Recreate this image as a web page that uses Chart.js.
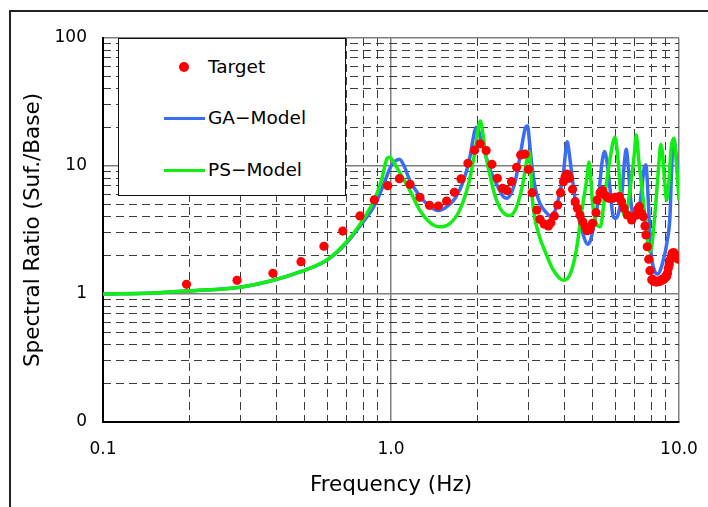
<!DOCTYPE html>
<html>
<head>
<meta charset="utf-8">
<script src="https://cdn.jsdelivr.net/npm/chart.js@4.4.1/dist/chart.umd.min.js"></script>
<style>
  html, body { margin: 0; padding: 0; background: #ffffff; }
  #wrap { position: relative; width: 708px; height: 507px; overflow: hidden; background: #fff; }
  #frame { position: absolute; left: 9px; top: 10px; width: 760px; height: 560px; border: 2px solid #222; box-sizing: border-box; pointer-events: none; }
  canvas { position: absolute; left: 0; top: 0; }
  #legend { position: absolute; left: 118px; top: 38px; width: 228px; height: 158px; box-sizing: border-box;
            border: 1.5px solid #111; background: #fff; font-family: "DejaVu Sans", sans-serif; font-size: 18.5px; color: #000; }
  .row { position: absolute; left: 0; height: 24px; line-height: 24px; }
  .row span { position: absolute; left: 89px; top: 0; white-space: nowrap; }
  .dot { position: absolute; left: 60px; top: 7px; width: 10px; height: 10px; border-radius: 50%; background: #ff0000; }
  .ln { position: absolute; left: 45px; top: 10.5px; width: 41px; height: 3.5px; }
</style>
</head>
<body>
<div id="wrap">
  <canvas id="c" width="708" height="507"></canvas>
  <div id="frame"></div>
  <div id="legend">
    <div class="row" style="top:16px"><div class="dot"></div><span>Target</span></div>
    <div class="row" style="top:67px"><div class="ln" style="background:#3a6cf4"></div><span>GA−Model</span></div>
    <div class="row" style="top:119px"><div class="ln" style="background:#11ee11"></div><span>PS−Model</span></div>
  </div>
</div>
<script>
// ---- data ----
const targetFreq = [0.195,0.292,0.389,0.487,0.585,0.68,0.78,0.875,0.974,1.069,1.164,1.26,1.36,1.46,1.56,1.66,1.75,1.85,1.95,2.04,2.14,2.24,2.34,2.44,2.53,2.62,2.73,2.82,2.92,3.0,3.09,3.21,3.29,3.40,3.52,3.59,3.69,3.79,3.88,3.97,4.02,4.07,4.12,4.16,4.27,4.36,4.44,4.53,4.63,4.72,4.80,4.91,5.01,5.15,5.20,5.32,5.43,5.5,5.61,5.7,5.79,5.9,6.0,6.1,6.21,6.32,6.44,6.62,6.85,7.1,7.2,7.28,7.4,7.52,7.62,7.68,7.76,7.85,7.93,8.04,8.1,8.15,8.26,8.35,8.45,8.55,8.65,8.72,8.82,8.92,9.0,9.06,9.12,9.18,9.25,9.31,9.4,9.45,9.51,9.6,9.7,9.77,9.85,9.95];
const targetRatio = [1.19,1.28,1.45,1.79,2.36,3.10,4.07,5.43,7.02,7.96,7.19,5.69,4.93,4.87,5.33,6.23,7.92,10.5,13.3,14.9,13.2,10.3,8.01,6.69,6.41,7.54,9.77,12.2,12.4,9.42,6.19,4.53,3.83,3.52,3.40,3.61,4.07,4.96,6.19,7.54,8.2,8.66,8.5,8.01,6.58,5.26,4.67,4.14,3.67,3.36,3.12,3.20,3.57,4.32,5.43,6.19,6.41,6.0,5.76,5.6,5.59,5.6,5.69,5.7,5.76,5.26,4.67,4.14,3.79,4.14,4.6,4.81,4.27,4.02,3.40,2.89,2.34,1.87,1.52,1.29,1.3,1.26,1.25,1.24,1.26,1.25,1.27,1.3,1.29,1.33,1.38,1.37,1.45,1.59,1.7,1.84,1.9,2.05,2.10,2.1,2.0,1.98,1.95,1.87];

const gaFreq = [0.1,0.15,0.2,0.3,0.39,0.48,0.6,0.7,0.78,0.88,0.95,1.0,1.04,1.07,1.11,1.16,1.26,1.37,1.46,1.56,1.67,1.79,1.88,1.93,1.97,2.0,2.04,2.09,2.19,2.32,2.45,2.53,2.62,2.7,2.79,2.87,2.93,2.98,3.03,3.07,3.16,3.29,3.47,3.6,3.7,3.78,3.9,3.97,4.04,4.09,4.15,4.24,4.4,4.63,4.82,4.92,5.03,5.24,5.4,5.52,5.6,5.75,5.9,6.04,6.2,6.35,6.47,6.56,6.65,6.8,6.95,7.1,7.28,7.45,7.6,7.68,7.75,7.84,8.0,8.2,8.43,8.8,9.1,9.3,9.42,9.52,9.6,9.72,9.85,10.0];
const gaRatio = [1.0,1.02,1.06,1.13,1.28,1.48,1.84,2.5,3.4,5.0,7.5,10.0,11.0,11.3,10.0,7.8,5.8,4.8,4.5,4.8,5.6,7.8,11.8,16.5,20.0,19.8,17.0,14.2,9.9,7.3,5.8,5.6,6.2,7.6,11.1,16.0,20.0,20.5,15.0,11.1,6.9,5.1,4.3,4.0,4.4,5.1,7.0,8.8,13.0,15.5,13.0,8.8,4.8,3.0,2.45,2.6,3.2,5.4,10.5,13.0,11.5,6.9,4.1,3.9,4.5,6.5,11.0,13.5,10.5,5.4,4.0,3.9,4.6,7.2,10.0,10.2,8.0,4.8,2.1,1.55,1.43,1.8,2.6,4.0,9.0,15.0,16.0,13.5,10.0,7.1];

const psFreq = [0.1,0.15,0.2,0.3,0.39,0.48,0.6,0.7,0.78,0.88,0.93,0.97,0.99,1.02,1.06,1.16,1.26,1.37,1.48,1.6,1.73,1.86,1.96,2.01,2.04,2.08,2.12,2.21,2.3,2.42,2.58,2.73,2.87,2.97,3.02,3.06,3.1,3.25,3.45,3.66,3.97,4.2,4.4,4.6,4.78,4.87,4.93,5.0,5.15,5.33,5.5,5.75,6.0,6.06,6.17,6.3,6.5,6.8,7.0,7.1,7.17,7.25,7.47,7.66,7.9,8.05,8.3,8.5,8.65,8.75,8.9,9.06,9.2,9.4,9.6,9.75,10.0];
const psRatio = [1.0,1.02,1.06,1.13,1.28,1.48,1.85,2.55,3.5,5.6,8.0,11.5,11.7,10.8,9.3,6.5,4.5,3.6,3.35,3.55,4.5,7.3,13.3,20.0,22.5,18.5,13.3,8.3,5.8,4.5,4.1,4.8,7.3,11.5,12.9,9.0,5.4,3.0,2.08,1.54,1.28,1.45,2.2,4.5,7.8,10.7,8.5,5.4,3.6,3.35,5.4,11.1,16.8,15.0,9.9,5.4,4.0,7.3,12.5,17.5,15.0,11.1,6.1,3.6,2.15,2.4,5.0,10.0,14.7,13.0,8.0,5.4,7.0,14.0,16.5,12.0,5.4];

const xTickValues = [0.1, 1, 10];
const xTickLabels = ['0.1', '1.0', '10.0'];
const yTickValues = [0.1, 1, 10, 100];
const yTickLabels = ['0', '1', '10', '100'];

// ---- helpers ----
const pairs = (xs, ys) => xs.map((x, i) => ({ x: x, y: ys[i] }));
function logTicks(lo, hi) {
  const out = [];
  for (let e = Math.round(Math.log10(lo)); e < Math.round(Math.log10(hi)); e++) {
    for (let m = 1; m < 10; m++) out.push(+(m * Math.pow(10, e)).toPrecision(6));
  }
  out.push(hi);
  return out.map(v => ({ value: v }));
}
const isMajor = v => Math.abs(Math.log10(v) - Math.round(Math.log10(v))) < 1e-6;
const labelFor = (vals, labels) => v => {
  const i = vals.findIndex(t => Math.abs(t - v) / t < 1e-6);
  return i >= 0 ? labels[i] : '';
};
const TRANSP = 'rgba(0,0,0,0)';
const MAJOR = '#7f7f7f';
const MINOR = '#3c3c3c';
const DASH = [8, 5];
const FONT = '"DejaVu Sans", sans-serif';

new Chart(document.getElementById('c'), {
  type: 'scatter',
  data: {
    datasets: [
      { label: 'Target', data: pairs(targetFreq, targetRatio), showLine: false,
        pointRadius: 4.6, pointBackgroundColor: '#ff0000', pointBorderWidth: 0, pointBorderColor: '#ff0000', order: 0 },
      { label: 'PS-Model', data: pairs(psFreq, psRatio), showLine: true, borderColor: '#11ee11',
        borderWidth: 3.5, pointRadius: 0, cubicInterpolationMode: 'monotone', order: 1 },
      { label: 'GA-Model', data: pairs(gaFreq, gaRatio), showLine: true, borderColor: '#3a6cf4',
        borderWidth: 3.5, pointRadius: 0, cubicInterpolationMode: 'monotone', order: 2 }
    ]
  },
  options: {
    responsive: false,
    animation: false,
    layout: { padding: 0, autoPadding: false },
    plugins: { legend: { display: false }, tooltip: { enabled: false } },
    scales: {
      x: {
        type: 'logarithmic', position: 'bottom', min: 0.1, max: 10,
        afterBuildTicks: s => { s.ticks = logTicks(0.1, 10); },
        afterFit: s => { s.height = 85; s.paddingLeft = 0; s.paddingRight = 0; },
        ticks: { autoSkip: false, maxRotation: 0, padding: 17, color: '#000',
                 font: { family: FONT, size: 17 }, callback: labelFor(xTickValues, xTickLabels) },
        grid: { drawTicks: false, lineWidth: 1.5,
                color: c => (c.tick && isMajor(c.tick.value) && c.tick.value > 0.1) ? MAJOR : TRANSP },
        border: { display: true, color: '#000', width: 2 },
        title: { display: true, text: 'Frequency (Hz)', color: '#000',
                 font: { family: FONT, size: 21.5 }, padding: { top: 0, bottom: 9 } }
      },
      xm: {
        type: 'logarithmic', position: 'top', min: 0.1, max: 10,
        afterBuildTicks: s => { s.ticks = logTicks(0.1, 10); },
        afterFit: s => { s.height = 38; s.paddingLeft = 0; s.paddingRight = 0; },
        ticks: { display: false, autoSkip: false, callback: () => '' },
        grid: { drawTicks: false, lineWidth: 1, borderDash: DASH,
                color: c => (c.tick && !isMajor(c.tick.value)) ? MINOR : TRANSP },
        border: { display: false, dash: DASH }
      },
      y: {
        type: 'logarithmic', position: 'left', min: 0.1, max: 100,
        afterBuildTicks: s => { s.ticks = logTicks(0.1, 100); },
        afterFit: s => { s.width = 103; s.paddingTop = 0; s.paddingBottom = 0; },
        ticks: { autoSkip: false, padding: 16, color: '#000',
                 font: { family: FONT, size: 17 }, callback: labelFor(yTickValues, yTickLabels) },
        grid: { drawTicks: false, lineWidth: 1.5,
                color: c => (c.tick && isMajor(c.tick.value) && c.tick.value > 0.1) ? MAJOR : TRANSP },
        border: { display: true, color: '#000', width: 2 },
        title: { display: true, text: 'Spectral Ratio (Suf./Base)', color: '#000',
                 font: { family: FONT, size: 21.5 }, padding: { top: 21, bottom: 0 } }
      },
      ym: {
        type: 'logarithmic', position: 'right', min: 0.1, max: 100,
        afterBuildTicks: s => { s.ticks = logTicks(0.1, 100); },
        afterFit: s => { s.width = 29; s.paddingTop = 0; s.paddingBottom = 0; },
        ticks: { display: false, autoSkip: false, callback: () => '' },
        grid: { drawTicks: false, lineWidth: 1, borderDash: DASH,
                color: c => (c.tick && !isMajor(c.tick.value)) ? MINOR : TRANSP },
        border: { display: false, dash: DASH }
      }
    }
  }
});
</script>
</body>
</html>
